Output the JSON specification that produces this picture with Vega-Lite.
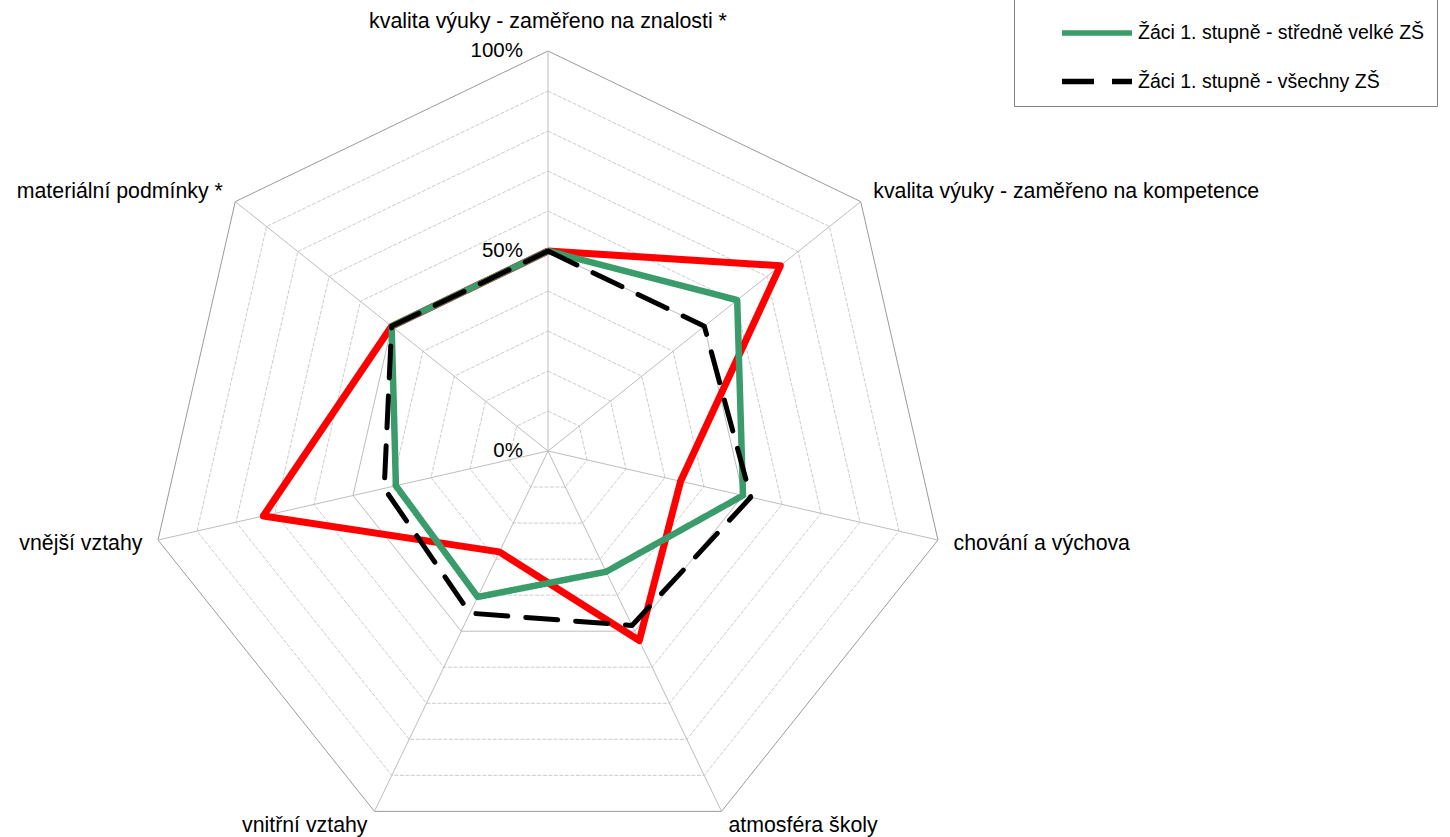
{
  "$schema": "https://vega.github.io/schema/vega-lite/v6.json",
  "width": 1450,
  "height": 837,
  "autosize": {"type": "none"},
  "padding": 0,
  "background": "white",
  "config": {
    "view": {"stroke": null},
    "text": {"font": "Liberation Sans", "color": "#000000"},
    "legend": {
      "labelFont": "Liberation Sans",
      "labelFontSize": 19.5,
      "labelColor": "#000000",
      "labelLimit": 0,
      "titleFont": "Liberation Sans",
      "titleFontSize": 16,
      "titlePadding": 34.5,
      "padding": 12.75,
      "rowPadding": 25.5,
      "strokeColor": "#808080",
      "fillColor": "white",
      "symbolStrokeWidth": 5.5
    }
  },
  "datasets": {
    "series": [
      {"s": "škola", "i": 0, "v": 50},
      {"s": "škola", "i": 1, "v": 74.3},
      {"s": "škola", "i": 2, "v": 34},
      {"s": "škola", "i": 3, "v": 52.6},
      {"s": "škola", "i": 4, "v": 28},
      {"s": "škola", "i": 5, "v": 73},
      {"s": "škola", "i": 6, "v": 50},
      {"s": "škola", "i": 7, "v": 50},
      {"s": "Žáci 1. stupně - středně velké ZŠ", "i": 0, "v": 50},
      {"s": "Žáci 1. stupně - středně velké ZŠ", "i": 1, "v": 60.5},
      {"s": "Žáci 1. stupně - středně velké ZŠ", "i": 2, "v": 50},
      {"s": "Žáci 1. stupně - středně velké ZŠ", "i": 3, "v": 33.5},
      {"s": "Žáci 1. stupně - středně velké ZŠ", "i": 4, "v": 40.5},
      {"s": "Žáci 1. stupně - středně velké ZŠ", "i": 5, "v": 39},
      {"s": "Žáci 1. stupně - středně velké ZŠ", "i": 6, "v": 50},
      {"s": "Žáci 1. stupně - středně velké ZŠ", "i": 7, "v": 50},
      {"s": "Žáci 1. stupně - všechny ZŠ", "i": 0, "v": 50},
      {"s": "Žáci 1. stupně - všechny ZŠ", "i": 1, "v": 50},
      {"s": "Žáci 1. stupně - všechny ZŠ", "i": 2, "v": 52},
      {"s": "Žáci 1. stupně - všechny ZŠ", "i": 3, "v": 48.4},
      {"s": "Žáci 1. stupně - všechny ZŠ", "i": 4, "v": 45},
      {"s": "Žáci 1. stupně - všechny ZŠ", "i": 5, "v": 42},
      {"s": "Žáci 1. stupně - všechny ZŠ", "i": 6, "v": 50},
      {"s": "Žáci 1. stupně - všechny ZŠ", "i": 7, "v": 50}
    ],
    "axes": [
      {"i": 0, "label": "kvalita výuky - zaměřeno na znalosti *"},
      {"i": 1, "label": "kvalita výuky - zaměřeno na kompetence"},
      {"i": 2, "label": "chování a výchova"},
      {"i": 3, "label": "atmosféra školy"},
      {"i": 4, "label": "vnitřní vztahy"},
      {"i": 5, "label": "vnější vztahy"},
      {"i": 6, "label": "materiální podmínky *"}
    ],
    "grid": [
      {"i": 0, "lv": [10, 20, 30, 40, 50, 60, 70, 80, 90, 100]},
      {"i": 1, "lv": [10, 20, 30, 40, 50, 60, 70, 80, 90, 100]},
      {"i": 2, "lv": [10, 20, 30, 40, 50, 60, 70, 80, 90, 100]},
      {"i": 3, "lv": [10, 20, 30, 40, 50, 60, 70, 80, 90, 100]},
      {"i": 4, "lv": [10, 20, 30, 40, 50, 60, 70, 80, 90, 100]},
      {"i": 5, "lv": [10, 20, 30, 40, 50, 60, 70, 80, 90, 100]},
      {"i": 6, "lv": [10, 20, 30, 40, 50, 60, 70, 80, 90, 100]},
      {"i": 7, "lv": [10, 20, 30, 40, 50, 60, 70, 80, 90, 100]}
    ],
    "ticks": [
      {"lv": 0, "t": "0%"},
      {"lv": 50, "t": "50%"},
      {"lv": 100, "t": "100%"}
    ]
  },
  "encoding": {
    "x": {"field": "X", "type": "quantitative", "scale": {"domain": [-1.37, 2.255], "nice": false, "zero": false}, "axis": null},
    "y": {"field": "Y", "type": "quantitative", "scale": {"domain": [-0.965, 1.1275], "nice": false, "zero": false}, "axis": null}
  },
  "layer": [
    {
      "data": {"name": "grid"},
      "transform": [
        {"flatten": ["lv"]},
        {"filter": "datum.lv % 50 != 0"},
        {"calculate": "datum.lv / 100 * sin(datum.i * 2 * PI / 7)", "as": "X"},
        {"calculate": "datum.lv / 100 * cos(datum.i * 2 * PI / 7)", "as": "Y"}
      ],
      "mark": {"type": "line", "stroke": "#cccccc", "strokeWidth": 1, "strokeDash": [4, 1.5]},
      "encoding": {"detail": {"field": "lv", "type": "nominal"}, "order": {"field": "i", "type": "quantitative"}}
    },
    {
      "data": {"name": "grid"},
      "transform": [
        {"flatten": ["lv"]},
        {"filter": "datum.lv == 50"},
        {"calculate": "datum.lv / 100 * sin(datum.i * 2 * PI / 7)", "as": "X"},
        {"calculate": "datum.lv / 100 * cos(datum.i * 2 * PI / 7)", "as": "Y"}
      ],
      "mark": {"type": "line", "stroke": "#bdbdbd", "strokeWidth": 1},
      "encoding": {"order": {"field": "i", "type": "quantitative"}}
    },
    {
      "data": {"name": "grid"},
      "transform": [
        {"flatten": ["lv"]},
        {"filter": "datum.lv == 100"},
        {"calculate": "datum.lv / 100 * sin(datum.i * 2 * PI / 7)", "as": "X"},
        {"calculate": "datum.lv / 100 * cos(datum.i * 2 * PI / 7)", "as": "Y"}
      ],
      "mark": {"type": "line", "stroke": "#9a9a9a", "strokeWidth": 1},
      "encoding": {"order": {"field": "i", "type": "quantitative"}}
    },
    {
      "data": {"name": "axes"},
      "transform": [
        {"calculate": "sin(datum.i * 2 * PI / 7)", "as": "X"},
        {"calculate": "cos(datum.i * 2 * PI / 7)", "as": "Y"}
      ],
      "mark": {"type": "rule", "stroke": "#bdbdbd", "strokeWidth": 1},
      "encoding": {"x2": {"datum": 0}, "y2": {"datum": 0}}
    },
    {
      "data": {"name": "series"},
      "transform": [
        {"filter": "datum.s == 'škola'"},
        {"calculate": "datum.v / 100 * sin(datum.i * 2 * PI / 7)", "as": "X"},
        {"calculate": "datum.v / 100 * cos(datum.i * 2 * PI / 7)", "as": "Y"}
      ],
      "mark": {"type": "line", "stroke": "#ff0000", "strokeWidth": 7, "strokeJoin": "round"},
      "encoding": {"order": {"field": "i", "type": "quantitative"}}
    },
    {
      "data": {"name": "series"},
      "transform": [
        {"filter": "datum.s == 'Žáci 1. stupně - středně velké ZŠ'"},
        {"calculate": "datum.v / 100 * sin(datum.i * 2 * PI / 7)", "as": "X"},
        {"calculate": "datum.v / 100 * cos(datum.i * 2 * PI / 7)", "as": "Y"}
      ],
      "mark": {"type": "line", "strokeWidth": 6.5, "strokeJoin": "round"},
      "encoding": {
        "order": {"field": "i", "type": "quantitative"},
        "color": {
          "field": "s", "type": "nominal", "title": " ",
          "scale": {"domain": ["Žáci 1. stupně - středně velké ZŠ", "Žáci 1. stupně - všechny ZŠ"], "range": ["#3a9c6b", "#000000"]},
          "legend": {"orient": "none", "legendX": 1014, "legendY": -40, "symbolType": "M-7,0H7", "symbolSize": 100, "symbolOffset": 60.5, "labelOffset": 31.25, "symbolStrokeWidth": 5.5}
        },
        "strokeDash": {
          "field": "s", "type": "nominal", "title": " ",
          "scale": {"domain": ["Žáci 1. stupně - středně velké ZŠ", "Žáci 1. stupně - všechny ZŠ"], "range": [[1, 0], [32, 18]]},
          "legend": {"orient": "none", "legendX": 1014, "legendY": -40, "symbolType": "M-7,0H7", "symbolSize": 100, "symbolOffset": 60.5, "labelOffset": 31.25, "symbolStrokeWidth": 5.5}
        }
      }
    },
    {
      "data": {"name": "series"},
      "transform": [
        {"filter": "datum.s == 'Žáci 1. stupně - všechny ZŠ'"},
        {"calculate": "datum.v / 100 * sin(datum.i * 2 * PI / 7)", "as": "X"},
        {"calculate": "datum.v / 100 * cos(datum.i * 2 * PI / 7)", "as": "Y"}
      ],
      "mark": {"type": "line", "strokeWidth": 5, "strokeCap": "round", "strokeJoin": "round"},
      "encoding": {
        "order": {"field": "i", "type": "quantitative"},
        "color": {
          "field": "s", "type": "nominal", "title": " ",
          "scale": {"domain": ["Žáci 1. stupně - středně velké ZŠ", "Žáci 1. stupně - všechny ZŠ"], "range": ["#3a9c6b", "#000000"]}
        },
        "strokeDash": {
          "field": "s", "type": "nominal", "title": " ",
          "scale": {"domain": ["Žáci 1. stupně - středně velké ZŠ", "Žáci 1. stupně - všechny ZŠ"], "range": [[1, 0], [32, 18]]}
        }
      }
    },
    {
      "data": {"name": "axes"},
      "transform": [
        {"filter": "datum.i == 0"},
        {"calculate": "1.04 * sin(datum.i * 2 * PI / 7)", "as": "X"},
        {"calculate": "1.04 * cos(datum.i * 2 * PI / 7)", "as": "Y"}
      ],
      "mark": {"type": "text", "align": "center", "baseline": "alphabetic", "dy": -7, "fontSize": 21.4},
      "encoding": {"text": {"field": "label"}}
    },
    {
      "data": {"name": "axes"},
      "transform": [
        {"filter": "datum.i >= 1 && datum.i <= 3"},
        {"calculate": "1.04 * sin(datum.i * 2 * PI / 7)", "as": "X"},
        {"calculate": "1.04 * cos(datum.i * 2 * PI / 7)", "as": "Y"}
      ],
      "mark": {"type": "text", "align": "left", "baseline": "middle", "fontSize": 21.3},
      "encoding": {"text": {"field": "label"}}
    },
    {
      "data": {"name": "axes"},
      "transform": [
        {"filter": "datum.i >= 4"},
        {"calculate": "1.04 * sin(datum.i * 2 * PI / 7)", "as": "X"},
        {"calculate": "1.04 * cos(datum.i * 2 * PI / 7)", "as": "Y"}
      ],
      "mark": {"type": "text", "align": "right", "baseline": "middle", "fontSize": 21.3},
      "encoding": {"text": {"field": "label"}}
    },
    {
      "data": {"name": "ticks"},
      "transform": [
        {"calculate": "0", "as": "X"},
        {"calculate": "datum.lv / 100", "as": "Y"}
      ],
      "mark": {"type": "text", "align": "right", "baseline": "middle", "dx": -25, "fontSize": 20.5},
      "encoding": {"text": {"field": "t"}}
    }
  ]
}
